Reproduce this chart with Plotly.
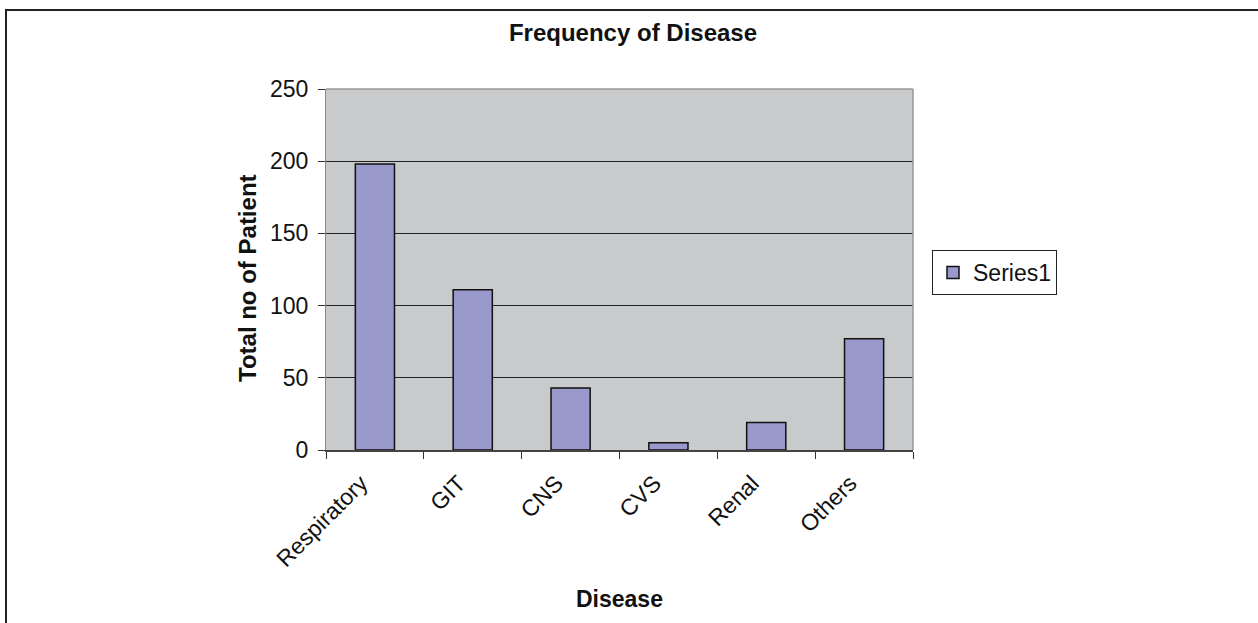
import plotly.graph_objects as go

categories = ["Respiratory", "GIT", "CNS", "CVS", "Renal", "Others"]
patients = [198, 111, 43, 5, 19, 77]
series_name = "Series1"
y_ticks = [0, 50, 100, 150, 200, 250]

W, H = 1258, 623
L, R, T, B = 326, 913, 89, 450
pw, ph = R - L, B - T

def px(x):
    return (x - L) / pw

def py(y):
    return (B - y) / ph

font = "Liberation Sans, Arial, sans-serif"

fig = go.Figure()
fig.add_trace(go.Bar(
    x=categories, y=patients, name=series_name,
    marker=dict(color="#9999CC", line=dict(color="#111111", width=1.5)),
    width=0.4, showlegend=True,
))

fig.update_layout(
    width=W, height=H,
    margin=dict(l=L, r=W - R, t=T, b=H - B, pad=0),
    paper_bgcolor="white",
    plot_bgcolor="#C9CACC",
    font=dict(family=font, color="#111111"),
    title=dict(text="<b>Frequency of Disease</b>", x=633 / W, xanchor="center",
               y=1 - 33 / H, yanchor="middle", font=dict(size=24, family=font)),
    showlegend=True,
    legend=dict(x=px(932), y=py(250), xanchor="left", yanchor="top",
                bordercolor="#222222", borderwidth=1, bgcolor="white",
                font=dict(size=23, family=font), itemwidth=30,
                tracegroupgap=0),
    xaxis=dict(
        type="category", tickson="boundaries", ticks="outside", ticklen=7,
        tickcolor="#333333", tickangle=-45, tickfont=dict(size=23),
        ticklabelshift=-14, ticklabelstandoff=9,
        showline=True, linecolor="#444444", linewidth=1.5, mirror=False,
        showgrid=False, zeroline=False,
    ),
    yaxis=dict(
        range=[0, 250], tickvals=y_ticks, ticks="outside", ticklen=7,
        tickcolor="#333333", tickfont=dict(size=23), ticklabelstandoff=5,
        showline=True, linecolor="#888888", linewidth=1,
        showgrid=True, gridcolor="#222222", gridwidth=1, zeroline=False,
    ),
    annotations=[
        dict(text="<b>Total no of Patient</b>", xref="paper", yref="paper",
             x=px(247), y=py(278), textangle=-90, showarrow=False,
             font=dict(size=24, family=font), xanchor="center", yanchor="middle"),
        dict(text="<b>Disease</b>", xref="paper", yref="paper",
             x=px(619), y=py(599), showarrow=False,
             font=dict(size=23, family=font), xanchor="center", yanchor="middle"),
    ],
    shapes=[
        dict(type="line", xref="paper", yref="paper", x0=0, x1=1, y0=1, y1=1,
             line=dict(color="#999999", width=1.5)),
        dict(type="line", xref="paper", yref="paper", x0=1, x1=1, y0=0, y1=1,
             line=dict(color="#999999", width=1.5)),
        dict(type="rect", xref="paper", yref="paper",
             x0=px(6), x1=px(1275), y0=py(650), y1=py(10),
             line=dict(color="#222222", width=2), fillcolor="rgba(0,0,0,0)",
             layer="below"),
    ],
)

fig.write_html("out.html", config={"displayModeBar": False},
               post_script="document.body.style.margin='0px';")
